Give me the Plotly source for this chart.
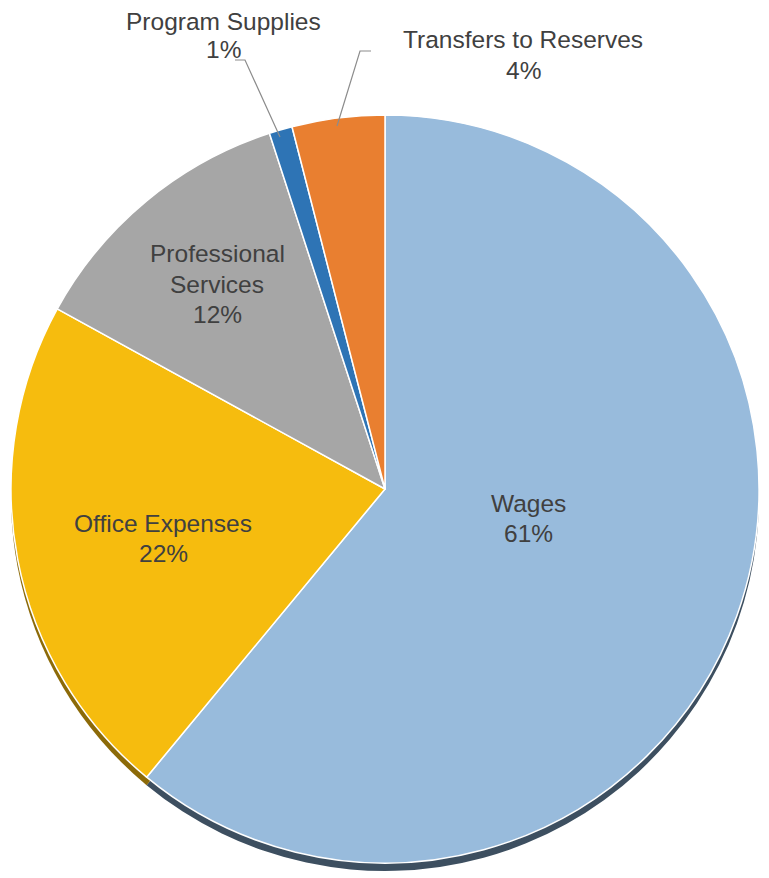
import plotly.graph_objects as go

# ---- data ----
categories = ["Wages", "Office Expenses", "Professional Services", "Program Supplies", "Transfers to Reserves"]
values = [61, 22, 12, 1, 4]
label_lines = [["Wages", "61%"], ["Office Expenses", "22%"], ["Professional", "Services", "12%"],
               ["Program Supplies", "1%"], ["Transfers to Reserves", "4%"]]

# ---- styles ----
colors = ["#98BBDC", "#F6BC0E", "#A6A6A6", "#2E74B5", "#E97F30"]
shadow_colors = ["#3D4F60", "#8C6A08", "#5E5E5E", "#1E4C77", "#8F4C1B"]

W, H = 769, 878
OFF = 8  # page body margin compensation
cx, cy, r = 385 - OFF, 489 - OFF, 374
depth = 8


def px(x):
    return (x - OFF) / W


def py(y):
    return 1 - (y - OFF) / H


fig = go.Figure()

# shadow (3D edge)
fig.add_trace(go.Pie(
    labels=categories, values=values, sort=False, direction="clockwise", rotation=0,
    marker=dict(colors=shadow_colors, line=dict(color="white", width=0)),
    textinfo="none", hoverinfo="skip", showlegend=False,
    domain=dict(x=[(cx - r) / W, (cx + r) / W], y=[1 - (cy + r + depth) / H, 1 - (cy - r + depth) / H]),
))

# main pie
fig.add_trace(go.Pie(
    labels=categories, values=values, sort=False, direction="clockwise", rotation=0,
    marker=dict(colors=colors, line=dict(color="white", width=1.5)),
    textinfo="none", showlegend=False,
    domain=dict(x=[(cx - r) / W, (cx + r) / W], y=[1 - (cy + r) / H, 1 - (cy - r) / H]),
))

# label line centres (pixel x, y per line)
label_pos = [(528, [503, 533]), (163, [523, 553]), (217, [253, 284, 315]),
             (223, [22, 50]), (523, [40, 70])]
font = dict(family="Liberation Sans, Arial, sans-serif", size=24.5, color="#404040")
for lines, (x, ys) in zip(label_lines, label_pos):
    for t, y in zip(lines, ys):
        fig.add_annotation(x=px(x), y=py(y), xref="paper", yref="paper", text=t,
                           showarrow=False, font=font, align="center", borderpad=0,
                           xanchor="center", yanchor="middle")

# leader lines
leaders = [[(235, 60), (245, 60), (280, 137)], [(371, 51), (360, 51), (337, 126)]]
for pts in leaders:
    path = "M " + " L ".join(f"{px(x)},{py(y)}" for x, y in pts)
    fig.add_shape(type="path", path=path, xref="paper", yref="paper",
                  line=dict(color="#8C8C8C", width=1.2))

fig.update_layout(width=W, height=H, margin=dict(l=0, r=0, t=0, b=0),
                  paper_bgcolor="white", plot_bgcolor="white")

fig.write_html("out.html")
